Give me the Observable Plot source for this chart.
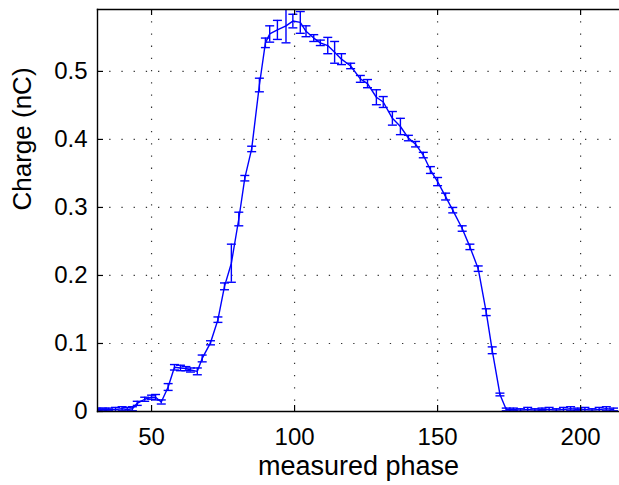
<!DOCTYPE html>
<html><head><meta charset="utf-8">
<script src="https://cdn.jsdelivr.net/npm/d3@7"></script>
<script src="https://cdn.jsdelivr.net/npm/@observablehq/plot@0.6"></script>
<style>html,body{margin:0;padding:0;background:#fff} svg{display:block}</style>
</head><body><div id="chart"></div>
<script>
const phase = [31,33,35,37.4,39.7,41.5,43.3,45,47.6,50,51.4,53.4,55.8,58,60.1,62,63.6,66,67.7,70.6,73.2,75.5,77.9,80.5,82.6,85,87.7,89.8,91.3,94,97,99.4,102,104,106.7,109,111.6,114,116.4,119.6,123,125.5,128.6,131,134.2,137,139.8,142.3,145,147.5,150,152.8,155.3,158.6,161.3,164.2,167,169.1,171.8,174,176.5,179,181.5,184,186.5,189,191.5,194,196.5,199,201.5,204,206.5,209,211.5];
const charge = [0.003,0.003,0.003,0.003,0.004,0.003,0.004,0.012,0.018,0.021,0.021,0.014,0.036,0.065,0.064,0.063,0.061,0.059,0.078,0.101,0.135,0.184,0.218,0.283,0.343,0.386,0.48,0.542,0.555,0.561,0.567,0.574,0.572,0.559,0.549,0.542,0.538,0.528,0.518,0.508,0.489,0.482,0.462,0.455,0.431,0.419,0.402,0.393,0.377,0.355,0.338,0.316,0.296,0.269,0.242,0.21,0.146,0.09,0.025,0.003,0.003,0.002,0.003,0.002,0.003,0.003,0.002,0.003,0.004,0.003,0.003,0.002,0.003,0.004,0.003];
const errors = [0.002,0.002,0.002,0.003,0.003,0.003,0.003,0.003,0.003,0.003,0.004,0.003,0.005,0.004,0.004,0.003,0.003,0.005,0.005,0.003,0.004,0.005,0.028,0.01,0.004,0.004,0.01,0.007,0.012,0.014,0.025,0.01,0.016,0.008,0.005,0.004,0.012,0.016,0.008,0.004,0.005,0.006,0.011,0.008,0.01,0.012,0.004,0.004,0.004,0.005,0.006,0.005,0.004,0.004,0.004,0.004,0.005,0.005,0.002,0.002,0.002,0.002,0.003,0.002,0.002,0.003,0.002,0.003,0.003,0.002,0.003,0.002,0.003,0.003,0.002];
const xTicks = [50,100,150,200];
const yTicks = [0,0.1,0.2,0.3,0.4,0.5];
const xLabel = "measured phase";
const yLabel = "Charge (nC)";

const data = phase.map((p,i)=>({phase:p, q:charge[i], lo:charge[i]-errors[i], hi:charge[i]+errors[i]}));
const cap = {draw(ctx){ ctx.moveTo(-4.5,0); ctx.lineTo(4.5,0); }};
const blue = "#0000ff";
const font = "'Liberation Sans', Arial, Helvetica, sans-serif";

const chart = Plot.plot({
  width:619, height:485,
  marginLeft:97, marginRight:0, marginTop:9, marginBottom:74,
  style:{fontFamily:font, background:"#fff", color:"#000"},
  x:{domain:[31.1,213.6]},
  y:{domain:[0,0.591]},
  marks:[
    Plot.ruleX(xTicks,{x:d=>d, stroke:"#333", strokeWidth:1.2, strokeDasharray:"1.3,10.9"}),
    Plot.ruleY(yTicks.slice(1),{y:d=>d, stroke:"#333", strokeWidth:1.2, strokeDasharray:"1.3,10.9"}),
    Plot.ruleX(data,{x:"phase", y1:"lo", y2:"hi", stroke:blue, strokeWidth:1.4, clip:true}),
    Plot.dot(data,{x:"phase", y:"lo", symbol:cap, r:4, stroke:blue, strokeWidth:1.4, fill:"none", clip:true}),
    Plot.dot(data,{x:"phase", y:"hi", symbol:cap, r:4, stroke:blue, strokeWidth:1.4, fill:"none", clip:true}),
    Plot.line(data,{x:"phase", y:"q", stroke:blue, strokeWidth:1.4, clip:true}),
    Plot.tickX(xTicks,{x:d=>d, insetTop:396, stroke:"#000", strokeWidth:1.2}),
    Plot.tickX(xTicks,{x:d=>d, insetBottom:396, stroke:"#000", strokeWidth:1.2}),
    Plot.tickY(yTicks,{y:d=>d, insetRight:516, stroke:"#000", strokeWidth:1.2}),
    Plot.frame({anchor:"left", stroke:"#000", strokeWidth:1.4}),
    Plot.frame({anchor:"top", stroke:"#000", strokeWidth:1.4}),
    Plot.frame({anchor:"bottom", stroke:"#000", strokeWidth:1.4}),
    Plot.axisX({ticks:xTicks, tickSize:0, tickPadding:16, fontSize:24, label:null, tickFormat:d=>String(d)}),
    Plot.axisY({ticks:yTicks, tickSize:0, tickPadding:10, fontSize:24, label:null, tickFormat:d=>String(d)}),
    Plot.text([xLabel],{text:d=>d, frameAnchor:"bottom", dy:55, fontSize:27, lineAnchor:"middle"}),
    Plot.text([yLabel],{text:d=>d, frameAnchor:"left", dx:-75, rotate:-90, fontSize:26, lineAnchor:"middle"})
  ]
});
document.getElementById("chart").appendChild(chart);
</script>
</body></html>
